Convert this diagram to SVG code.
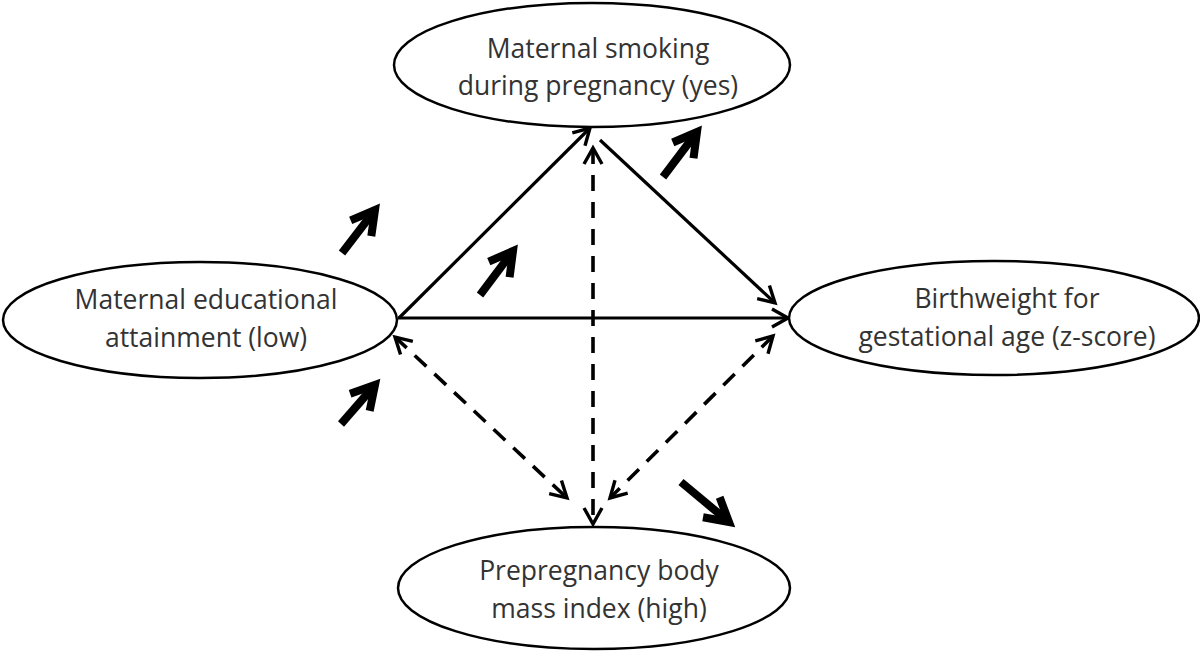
<svg xmlns="http://www.w3.org/2000/svg" width="1200" height="654" viewBox="0 0 1200 654">
<style>
.node ellipse{fill:#fff;stroke:#000;stroke-width:2.5}
.node text{font-family:"Open Sans","Liberation Sans",sans-serif;font-size:26.5px;fill:#333;text-anchor:middle}
.c{stroke:#000;stroke-width:3.2;fill:none}
.d{stroke-dasharray:16 11;stroke-width:3.6}
.b{stroke:#000;stroke-width:8;fill:none}
</style>
<defs>
<marker id="h" markerUnits="userSpaceOnUse" markerWidth="30" markerHeight="30" viewBox="-20 -15 30 30" refX="0" refY="0" orient="auto-start-reverse" overflow="visible">
<path d="M-16,-9 L0,0 L-16,9" fill="none" stroke="#000" stroke-width="3.4" stroke-linejoin="miter"/>
</marker>
<marker id="hb" markerUnits="userSpaceOnUse" markerWidth="40" markerHeight="40" viewBox="-30 -20 40 40" refX="0" refY="0" orient="auto" overflow="visible">
<path d="M-23,-13 L0,0 L-23,13" fill="none" stroke="#000" stroke-width="8" stroke-linejoin="miter"/>
</marker>
</defs>
<g id="connectors">
<line class="c" x1="399" y1="318" x2="590" y2="128" marker-end="url(#h)"/>
<line class="c" x1="600" y1="140" x2="775" y2="303" marker-end="url(#h)"/>
<line class="c" x1="398" y1="318" x2="788" y2="318" marker-end="url(#h)"/>
<line class="c d" x1="593" y1="148" x2="593" y2="524" marker-start="url(#h)" marker-end="url(#h)"/>
<line class="c d" x1="395" y1="337" x2="567" y2="498" marker-start="url(#h)" marker-end="url(#h)"/>
<line class="c d" x1="773" y1="336" x2="610" y2="498" marker-start="url(#h)" marker-end="url(#h)"/>
<line class="b" x1="342" y1="253" x2="375" y2="210" marker-end="url(#hb)"/>
<line class="b" x1="341" y1="424" x2="375" y2="385" marker-end="url(#hb)"/>
<line class="b" x1="480" y1="295" x2="513" y2="251" marker-end="url(#hb)"/>
<line class="b" x1="663" y1="177" x2="697" y2="132" marker-end="url(#hb)"/>
<line class="b" x1="681" y1="482" x2="729" y2="522" marker-end="url(#hb)"/>
</g>
<g id="smoking" class="node">
<ellipse cx="592" cy="65" rx="198" ry="62"/>
<text x="598" y="58">Maternal smoking</text>
<text x="598" y="95">during pregnancy (yes)</text>
</g>
<g id="education" class="node">
<ellipse cx="200" cy="320" rx="197" ry="58"/>
<text x="206" y="309">Maternal educational</text>
<text x="206" y="347">attainment (low)</text>
</g>
<g id="birthweight" class="node">
<ellipse cx="994" cy="318" rx="205" ry="57"/>
<text x="1007" y="308">Birthweight for</text>
<text x="1007" y="346">gestational age (z-score)</text>
</g>
<g id="bmi" class="node">
<ellipse cx="594" cy="588" rx="196" ry="61"/>
<text x="599" y="580">Prepregnancy body</text>
<text x="599" y="618">mass index (high)</text>
</g>
</svg>
